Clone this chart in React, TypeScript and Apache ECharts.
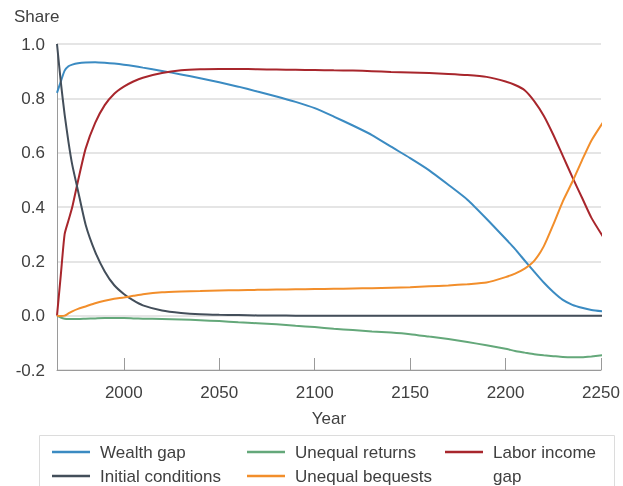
import React, { useEffect, useRef } from 'react';
import * as echarts from 'echarts';

const years = [1965, 1967, 1969, 1971, 1973, 1976, 1980, 1985, 1990, 1995, 2000, 2005, 2010,
  2020, 2030, 2040, 2050, 2060, 2070, 2080, 2090, 2100, 2110, 2120, 2130, 2140, 2150, 2160, 2170, 2180, 2190, 2200,
  2205, 2210, 2215, 2220, 2225, 2230, 2235, 2240, 2245, 2252];

const wealthGap = [0.82, 0.862, 0.902, 0.918, 0.924, 0.929, 0.932, 0.933, 0.931, 0.928, 0.924, 0.919, 0.913,
  0.901, 0.888, 0.874, 0.859, 0.843, 0.825, 0.807, 0.787, 0.764, 0.733, 0.700, 0.665, 0.622, 0.580, 0.535, 0.482, 0.427, 0.357, 0.283,
  0.245, 0.203, 0.162, 0.122, 0.087, 0.058, 0.040, 0.029, 0.021, 0.015];

const unequalReturns = [0, -0.007, -0.011, -0.012, -0.012, -0.012, -0.011, -0.010, -0.009, -0.009, -0.009, -0.010, -0.011,
  -0.012, -0.014, -0.017, -0.020, -0.024, -0.028, -0.032, -0.037, -0.042, -0.048, -0.053, -0.058, -0.062, -0.068, -0.077, -0.086, -0.097, -0.109, -0.122,
  -0.130, -0.136, -0.142, -0.146, -0.149, -0.152, -0.153, -0.153, -0.150, -0.144];

const laborIncomeGap = [0, 0.15, 0.30, 0.35, 0.40, 0.496, 0.615, 0.71, 0.775, 0.817, 0.843, 0.862, 0.876,
  0.893, 0.903, 0.907, 0.908, 0.908, 0.907, 0.906, 0.905, 0.904, 0.903, 0.902, 0.900, 0.897, 0.895, 0.893, 0.890, 0.886, 0.879, 0.862,
  0.849, 0.830, 0.790, 0.736, 0.666, 0.588, 0.51, 0.435, 0.36, 0.28];

const initialConditions = [1.0, 0.86, 0.74, 0.64, 0.555, 0.46, 0.335, 0.235, 0.163, 0.112, 0.08, 0.056, 0.038,
  0.019, 0.010, 0.005, 0.003, 0.002, 0.001, 0.001, 0, 0, 0, 0, 0, 0, 0, 0, 0, 0, 0, 0,
  0, 0, 0, 0, 0, 0, 0, 0, 0, 0];

const unequalBequests = [0, -0.001, 0, 0.008, 0.016, 0.025, 0.034, 0.046, 0.055, 0.062, 0.067, 0.073, 0.079,
  0.086, 0.089, 0.091, 0.093, 0.094, 0.095, 0.096, 0.097, 0.098, 0.099, 0.100, 0.101, 0.103, 0.105, 0.108, 0.111, 0.116, 0.122, 0.142,
  0.155, 0.173, 0.202, 0.255, 0.335, 0.421, 0.493, 0.571, 0.645, 0.722];

const xTickYears = [2000, 2050, 2100, 2150, 2200, 2250];

const FONT = '"Liberation Sans", Arial, Helvetica, sans-serif';
const TEXT = '#404040';
const AXIS = '#9a9a9a';

export default function App() {
  const ref = useRef<HTMLDivElement>(null);

  useEffect(() => {
    const chart = echarts.init(ref.current as HTMLDivElement, null, { renderer: 'svg' });
    const pairs = (vals: number[]) => years.map((y, i) => [y, vals[i]]);
    const mk = (name: string, vals: number[], color: string) => ({
      name,
      type: 'line',
      data: pairs(vals),
      symbol: 'none',
      showSymbol: false,
      smooth: 0.2,
      clip: false,
      lineStyle: { color, width: 2 },
      itemStyle: { color },
      emphasis: { disabled: true },
    });
    const legendText = { fontSize: 17, color: TEXT, fontFamily: FONT, lineHeight: 24, padding: [0, 0, 0, 5] };
    const legendBase = {
      type: 'plain',
      orient: 'vertical',
      icon: 'rect',
      itemWidth: 38,
      itemHeight: 2.5,
      itemGap: 0,
      padding: 0,
      height: 120,
      selectedMode: false,
      textStyle: legendText,
    };

    chart.setOption({
      animation: false,
      textStyle: { fontFamily: FONT },
      title: {
        text: 'Share',
        left: 14,
        top: 8,
        padding: 0,
        textStyle: { fontSize: 17, fontWeight: 'normal', color: TEXT, fontFamily: FONT },
      },
      grid: { left: 57, right: 22, top: 44, bottom: 116, outerBoundsMode: 'none' },
      xAxis: {
        type: 'value',
        min: 1965,
        max: 2250,
        name: 'Year',
        nameLocation: 'middle',
        nameGap: 40,
        nameTextStyle: { fontSize: 17, color: TEXT, fontFamily: FONT },
        axisLine: { show: true, onZero: false, lineStyle: { color: AXIS, width: 1 } },
        axisTick: { show: true, inside: true, length: 12, customValues: xTickYears, lineStyle: { color: AXIS } },
        axisLabel: {
          customValues: xTickYears,
          fontSize: 17,
          color: TEXT,
          margin: 14,
          fontFamily: FONT,
          formatter: (v: number) => String(Math.round(v)),
        },
        splitLine: { show: false },
      },
      yAxis: {
        type: 'value',
        min: -0.2,
        max: 1.0,
        interval: 0.2,
        axisLine: { show: true, lineStyle: { color: AXIS, width: 1 } },
        axisTick: { show: false },
        axisLabel: {
          fontSize: 17,
          color: TEXT,
          margin: 12,
          fontFamily: FONT,
          formatter: (v: number) => (Math.abs(v) < 1e-9 ? '0.0' : v.toFixed(1)),
        },
        splitLine: { show: true, lineStyle: { color: '#dcdcdc', width: 1.5 } },
      },
      legend: [
        { ...legendBase, left: 52, top: 440, data: ['Wealth gap', 'Initial conditions'] },
        { ...legendBase, left: 247, top: 440, data: ['Unequal returns', 'Unequal bequests'] },
        { ...legendBase, left: 445, top: 416, data: ['Labor income gap'], formatter: () => ' \nLabor income\ngap' },
      ],
      graphic: [
        {
          type: 'rect',
          silent: true,
          z: -1,
          shape: { x: 39.5, y: 435.5, width: 575, height: 60 },
          style: { fill: 'none', stroke: '#dcdcdc', lineWidth: 1 },
        },
      ],
      series: [
        mk('Wealth gap', wealthGap, '#3b8bc2'),
        mk('Unequal returns', unequalReturns, '#64a87a'),
        mk('Labor income gap', laborIncomeGap, '#a8262c'),
        mk('Initial conditions', initialConditions, '#434e5a'),
        mk('Unequal bequests', unequalBequests, '#f28e2b'),
      ],
    });
    return () => chart.dispose();
  }, []);

  return <div ref={ref} style={{ position: 'fixed', left: 0, top: 0, width: 623, height: 486 }} />;
}
